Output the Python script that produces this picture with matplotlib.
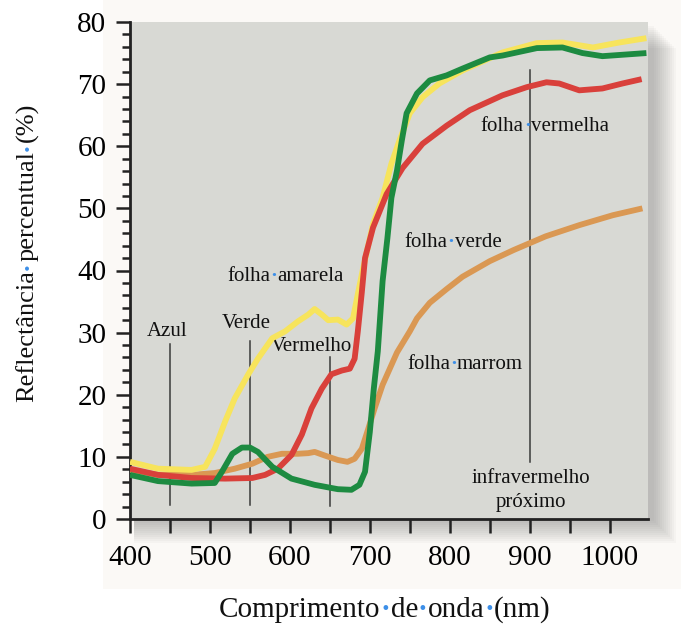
import matplotlib
matplotlib.use('Agg')
import matplotlib.pyplot as plt
from matplotlib.ticker import MultipleLocator
from matplotlib.patches import Rectangle

# dados (comprimento de onda em nm, reflectância em %)
x_amarela = [400, 435, 477, 494, 506, 519, 531, 548, 560, 578, 594, 610, 623, 631, 640, 648, 660, 671,
             679, 685, 691, 704, 716, 727, 737, 750, 766, 787, 816, 866, 909, 941, 979, 1012, 1046]
y_amarela = [9.2, 8.1, 7.9, 8.4, 11.3, 15.7, 19.4, 23.3, 25.8, 29.1, 30.2, 31.8, 32.9, 33.8, 32.9, 32.0, 32.1, 31.3,
             32.3, 36.2, 40.0, 47.5, 51.7, 57.2, 60.9, 65.3, 67.9, 70.1, 72.2, 75.1, 76.6, 76.7, 75.9, 76.7, 77.4]

x_vermelha = [400, 435, 477, 519, 553, 569, 585, 602, 615, 627, 640, 652, 665, 675, 681, 685, 690, 694,
              704, 721, 741, 766, 796, 825, 866, 896, 921, 937, 962, 991, 1016, 1040]
y_vermelha = [8.1, 7.1, 6.6, 6.5, 6.6, 7.1, 8.1, 10.3, 13.6, 17.8, 21.0, 23.3, 23.9, 24.2, 25.8, 30.2, 36.5, 42.0,
              46.9, 52.3, 56.5, 60.4, 63.3, 65.8, 68.2, 69.5, 70.3, 70.1, 69.0, 69.3, 70.1, 70.8]

x_verde = [400, 435, 477, 506, 515, 528, 540, 550, 560, 578, 602, 631, 660, 677, 687, 694, 700, 705,
           710, 716, 722, 727, 734, 740, 746, 759, 775, 796, 816, 850, 866, 909, 941, 966, 991, 1046]
y_verde = [7.1, 6.1, 5.7, 5.8, 7.6, 10.5, 11.5, 11.5, 10.8, 8.4, 6.5, 5.5, 4.8, 4.7, 5.5, 7.6, 14.0, 21.0,
           27.0, 38.3, 45.2, 51.7, 56.1, 60.9, 65.3, 68.5, 70.6, 71.4, 72.5, 74.3, 74.6, 75.8, 75.9, 75.0, 74.5, 75.0]

x_marrom = [400, 435, 477, 506, 531, 553, 572, 590, 610, 623, 631, 644, 660, 672, 681, 690, 698, 706,
            716, 734, 750, 759, 775, 796, 816, 850, 880, 920, 962, 1004, 1041]
y_marrom = [7.9, 7.1, 7.1, 7.4, 8.1, 8.9, 10.0, 10.5, 10.5, 10.6, 10.8, 10.2, 9.5, 9.2, 9.7, 11.3, 14.5, 17.8,
            21.6, 26.8, 30.2, 32.3, 34.8, 37.0, 39.0, 41.5, 43.3, 45.5, 47.3, 48.9, 50.0]

# linhas verticais das bandas: posição, base, topo
faixas_x = [450, 550, 650, 900]
faixas_y0 = [2.3, 2.3, 2.1, 9.2]
faixas_y1 = [28.1, 28.6, 26.0, 72.2]

fonte = 'Liberation Serif'
azul_ponto = '#3d8fe8'
plt.rcParams['font.family'] = [fonte, 'DejaVu Serif']

W, H = 681, 628
fig = plt.figure(figsize=(W / 100, H / 100), dpi=100)
fig.patch.set_facecolor('white')

# fundo levemente creme atrás do gráfico
fig.patches.append(Rectangle((103 / W, 39 / H), 578 / W, 589 / H, transform=fig.transFigure,
                             facecolor='#fbf9f6', edgecolor='none', zorder=-3))

pos = [130 / W, (H - 519) / H, (648 - 130) / W, (519 - 22) / H]

# sombra do painel (camadas suaves)
for i in range(12):
    d = (12 - i) * 2
    fig.patches.append(Rectangle((pos[0] + 4 / W, pos[1] - d / H), pos[2] + d / W, pos[3] - 2 / H,
                                 transform=fig.transFigure, facecolor='#555555', alpha=0.035,
                                 edgecolor='none', zorder=-2))

ax = fig.add_axes(pos)
ax.set_facecolor('#d8d9d4')

lw = 4.2
ax.plot(x_marrom, y_marrom, color='#da9853', lw=lw, solid_joinstyle='round', solid_capstyle='butt', zorder=3)
ax.plot(x_amarela, y_amarela, color='#f7e45c', lw=lw, solid_joinstyle='round', solid_capstyle='butt', zorder=4)
ax.plot(x_vermelha, y_vermelha, color='#d9403b', lw=lw, solid_joinstyle='round', solid_capstyle='butt', zorder=5)
ax.plot(x_verde, y_verde, color='#1d8b41', lw=lw, solid_joinstyle='round', solid_capstyle='butt', zorder=6)

for xv, y0, y1 in zip(faixas_x, faixas_y0, faixas_y1):
    ax.plot([xv, xv], [y0, y1], color='#3a3a3a', lw=1.1, zorder=2)

ax.set_xlim(400, 1048)
ax.set_ylim(0, 80)
ax.xaxis.set_major_locator(MultipleLocator(100))
ax.xaxis.set_minor_locator(MultipleLocator(50))
ax.yaxis.set_major_locator(MultipleLocator(10))
ax.yaxis.set_minor_locator(MultipleLocator(2))
ax.tick_params(axis='both', which='major', direction='out', length=10, width=1.8,
               labelsize=21, color='#222222')
ax.tick_params(axis='both', which='minor', direction='out', length=10, width=1.8, color='#222222')
ax.tick_params(axis='y', which='minor', length=6)
ax.tick_params(axis='x', which='major', pad=9)
ax.tick_params(axis='y', which='major', pad=7)
for s in ['top', 'right']:
    ax.spines[s].set_visible(False)
for s in ['left', 'bottom']:
    ax.spines[s].set_linewidth(2)
    ax.spines[s].set_color('#222222')

renderer = fig.canvas.get_renderer()


def largura(txt, tam):
    t = fig.text(0, 0, txt, fontsize=tam, family=fonte)
    w = t.get_window_extent(renderer).width
    t.remove()
    return w


def rotulo(partes, tam, cx, cy, vertical=False):
    # cx, cy em pixels da figura (origem embaixo à esquerda)
    pedacos = []
    for i, p in enumerate(partes):
        if i > 0:
            pedacos.append(('·', azul_ponto))
        pedacos.append((p, '#111111'))
    larg = [largura(p, tam) for p, c in pedacos]
    total = sum(larg)
    desc = 0.24 * tam * 100 / 72
    pos0 = -total / 2
    for (p, c), w in zip(pedacos, larg):
        peso = 'bold' if p == '·' else 'normal'
        if vertical:
            fig.text((cx + desc) / W, (cy + pos0) / H, p, fontsize=tam, family=fonte, color=c,
                     fontweight=peso, rotation=90, rotation_mode='anchor', ha='left', va='baseline')
        else:
            fig.text((cx + pos0) / W, (cy - desc) / H, p, fontsize=tam, family=fonte, color=c,
                     fontweight=peso, ha='left', va='baseline')
        pos0 += w


def rotulo_dados(partes, tam, x, y):
    px, py = ax.transData.transform((x, y))
    rotulo(partes, tam, px, py)


rotulo_dados(['folha', 'amarela'], 15, 595, 39.1)
rotulo_dados(['folha', 'verde'], 15, 804, 44.6)
rotulo_dados(['folha', 'vermelha'], 15, 919, 63.2)
rotulo_dados(['folha', 'marrom'], 15, 819, 24.9)
ax.text(447, 30.2, 'Azul', fontsize=15, ha='center', va='center', color='#111111')
ax.text(545, 31.4, 'Verde', fontsize=15, ha='center', va='center', color='#111111')
ax.text(627, 27.8, 'Vermelho', fontsize=15, ha='center', va='center', color='#111111')
ax.text(901, 6.5, 'infravermelho', fontsize=15, ha='center', va='center', color='#111111')
ax.text(901, 2.7, 'próximo', fontsize=15, ha='center', va='center', color='#111111')

rotulo(['Comprimento', 'de', 'onda', '(nm)'], 21, 385, H - 610)
rotulo(['Reflectância', 'percentual', '(%)'], 19, 27, H - 252, vertical=True)

fig.savefig('out.png', dpi=100)
